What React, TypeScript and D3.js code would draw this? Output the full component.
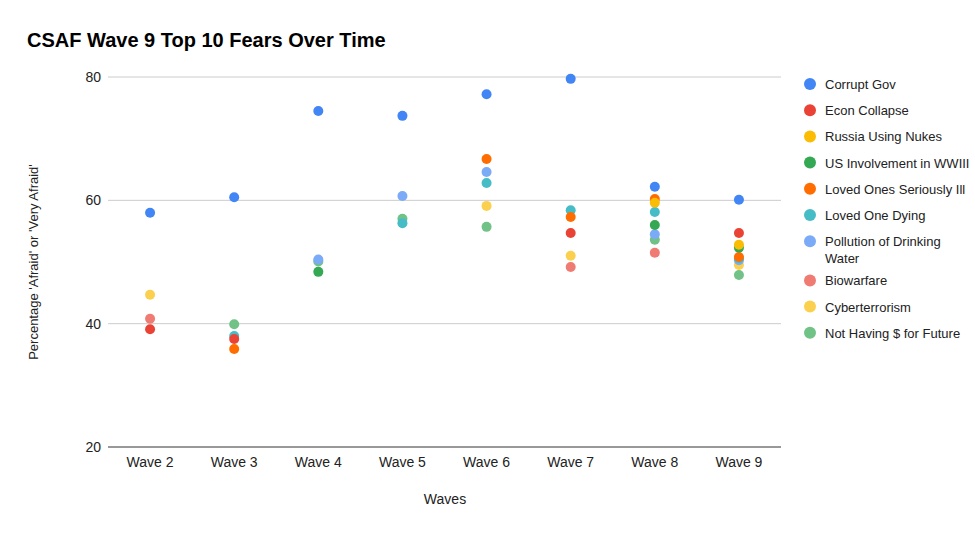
import React from "react";
import * as d3 from "d3";

const waves = ["Wave 2","Wave 3","Wave 4","Wave 5","Wave 6","Wave 7","Wave 8","Wave 9"];
const seriesNames = ["Corrupt Gov","Econ Collapse","Russia Using Nukes","US Involvement in WWIII","Loved Ones Seriously Ill","Loved One Dying","Pollution of Drinking Water","Biowarfare","Cyberterrorism","Not Having $ for Future"];
const colors = ["#4285f4","#ea4335","#fbbc04","#34a853","#ff6d01","#46bdc6","#7baaf7","#f07b72","#fcd04f","#71c287"];
type V = number | null;
const corruptGov: V[] = [58.0,60.5,74.5,73.7,77.2,79.7,62.2,60.1];
const econCollapse: V[] = [39.1,37.5,null,null,null,54.7,null,54.7];
const russiaNukes: V[] = [null,null,null,null,null,null,59.6,52.8];
const usWW3: V[] = [null,null,48.4,null,null,null,56.0,52.3];
const lovedIll: V[] = [null,35.9,null,null,66.7,57.3,60.2,50.8];
const lovedDying: V[] = [null,38.0,null,56.3,62.8,58.4,58.1,50.6];
const pollution: V[] = [null,null,50.4,60.7,64.6,null,54.5,50.3];
const biowarfare: V[] = [40.8,null,null,null,null,49.2,51.5,null];
const cyber: V[] = [44.7,null,null,null,59.1,51.0,null,49.5];
const notHaving: V[] = [null,39.9,50.1,57.0,55.7,null,53.6,47.9];
const seriesValues = [corruptGov,econCollapse,russiaNukes,usWW3,lovedIll,lovedDying,pollution,biowarfare,cyber,notHaving];
const yTicks = [20,40,60,80];

export default function App() {
  const W = 975, H = 535;
  const x = d3.scaleBand().domain(waves).range([108, 781]);
  const y = d3.scaleLinear().domain([20, 80]).range([447, 77]);
  const font = "Arial, 'Liberation Sans', sans-serif";
  const drawOrder = seriesValues.map((_, i) => i).reverse();
  return (
    <svg width={W} height={H} style={{ position: "absolute", left: 0, top: 0, background: "#fff" }} fontFamily={font}>
      <text x={27} y={47} fontSize={20} fontWeight="bold" fill="#000">CSAF Wave 9 Top 10 Fears Over Time</text>
      {yTicks.map(t => (
        <g key={t}>
          <line x1={108} x2={781} y1={y(t)} y2={y(t)} stroke={t === 20 ? "#333" : "#ccc"} strokeWidth={1} />
          <text x={101} y={y(t) + 5} textAnchor="end" fontSize={14} fill="#222">{t}</text>
        </g>
      ))}
      {waves.map(w => (
        <text key={w} x={x(w)! + x.bandwidth() / 2} y={467} textAnchor="middle" fontSize={14} fill="#222">{w}</text>
      ))}
      <text x={445} y={504} textAnchor="middle" fontSize={14} fill="#222">Waves</text>
      <text transform={`translate(38,262) rotate(-90)`} textAnchor="middle" fontSize={13} fill="#222">Percentage 'Afraid' or 'Very Afraid'</text>
      {drawOrder.map(si => (
        <g key={si}>
          {seriesValues[si].map((v, wi) => v == null ? null : (
            <circle key={wi} cx={x(waves[wi])! + x.bandwidth() / 2} cy={y(v)} r={5} fill={colors[si]} />
          ))}
        </g>
      ))}
      {seriesNames.map((n, i) => {
        const ly = 84 + i * 26.2 + (i > 6 ? 13 : 0);
        return (
          <g key={n}>
            <circle cx={810} cy={ly} r={6} fill={colors[i]} />
            {n === "Pollution of Drinking Water" ? (
              <text x={825} y={ly + 5} fontSize={13} fill="#222">
                <tspan>Pollution of Drinking</tspan>
                <tspan x={825} dy={17}>Water</tspan>
              </text>
            ) : (
              <text x={825} y={ly + 5} fontSize={13} fill="#222">{n}</text>
            )}
          </g>
        );
      })}
    </svg>
  );
}
